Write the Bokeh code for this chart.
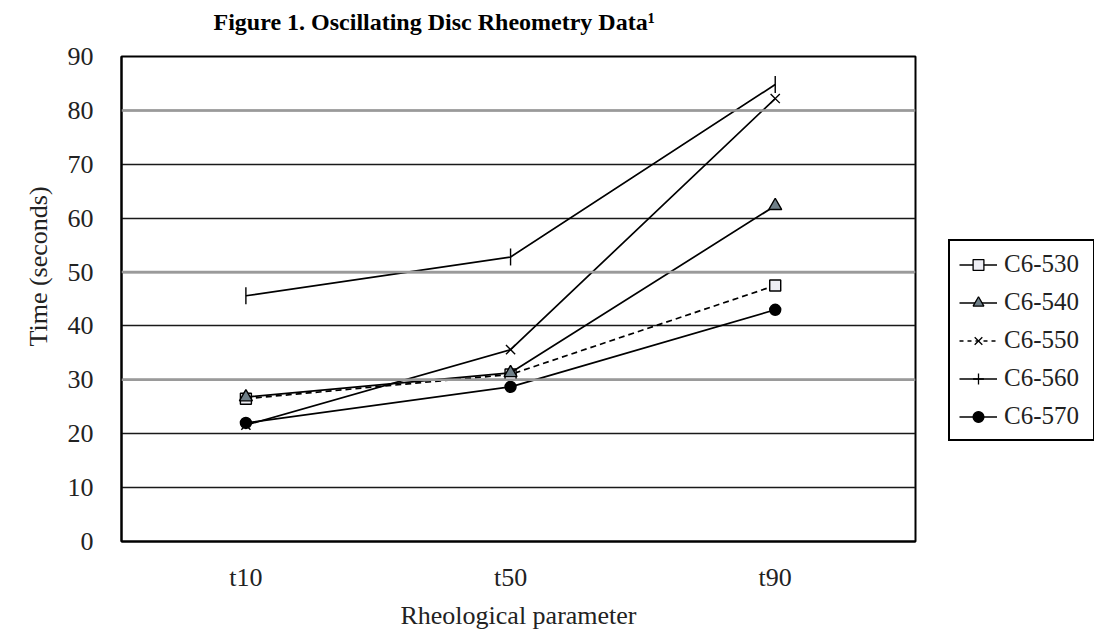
import math
from bokeh.plotting import figure
from bokeh.layouts import row, column
from bokeh.models import (Range1d, FixedTicker, Legend, LegendItem,
                          ColumnDataSource, Span, Label, Title)
from bokeh.embed import file_html
from bokeh.resources import INLINE

# ---- data ----
params = ["t10", "t50", "t90"]
series_names = ["C6-530", "C6-540", "C6-550", "C6-560", "C6-570"]
c6_530 = [26.5, 31.0, 47.5]
c6_540 = [26.8, 31.3, 62.3]
c6_550 = [21.6, 35.6, 82.2]
c6_560 = [45.6, 52.8, 84.8]
c6_570 = [22.0, 28.7, 43.0]
y_ticks = [0, 10, 20, 30, 40, 50, 60, 70, 80, 90]
light_grid_values = [30, 50, 80]
title_text = "Figure 1. Oscillating Disc Rheometry Data\u00b9"
x_label = "Rheological parameter"
y_label = "Time (seconds)"

SERIF = "Liberation Serif"
x_pos = list(range(len(params)))   # category slots

# ---- title strip ----
tf = figure(width=1094, height=40, x_range=Range1d(0, 1), y_range=Range1d(0, 1),
            output_backend="svg", toolbar_location=None, x_axis_type=None, y_axis_type=None,
            min_border_left=0, min_border_right=0, min_border_top=0, min_border_bottom=0)
tf.outline_line_color = None
tf.grid.grid_line_color = None
tf.add_layout(Label(x=213, y=19, x_units="screen", y_units="screen", text=title_text,
                    text_font=SERIF, text_font_size="24px", text_font_style="bold",
                    text_color="black", text_baseline="middle", text_align="left"))

# ---- main chart ----
p = figure(width=940, height=592, x_range=Range1d(-0.47, len(params) - 0.47),
           y_range=Range1d(0, 90), output_backend="svg", toolbar_location=None,
           min_border_left=121, min_border_right=25, min_border_top=16,
           min_border_bottom=88)

p.background_fill_color = "white"
p.border_fill_color = "white"
p.outline_line_color = "black"
p.outline_line_width = 2

p.yaxis.ticker = FixedTicker(ticks=y_ticks)
p.xaxis.ticker = FixedTicker(ticks=x_pos)
p.xaxis.major_label_overrides = {i: name for i, name in zip(x_pos, params)}
for ax in (p.xaxis[0], p.yaxis[0]):
    ax.major_tick_in = 0
    ax.major_tick_out = 0
    ax.minor_tick_in = 0
    ax.minor_tick_out = 0
    ax.axis_line_color = "black"
    ax.axis_line_width = 2
    ax.major_label_text_font = SERIF
    ax.major_label_text_font_size = "26px"
    ax.major_label_text_color = "#222222"
    ax.axis_label_text_font = SERIF
    ax.axis_label_text_font_size = "26px"
    ax.axis_label_text_font_style = "normal"
    ax.axis_label_text_color = "#222222"

p.yaxis.major_label_standoff = 28
p.xaxis.axis_label = x_label
p.xaxis.major_label_standoff = 21
p.xaxis.axis_label_standoff = 6

# y-axis title, placed above the middle as in the original
ytitle = Title(text=y_label, align="left", offset=195, vertical_align="top",
               text_font=SERIF, text_font_size="26px", text_font_style="normal",
               text_color="#222222", standoff=20)
p.add_layout(ytitle, "left")

p.xgrid.grid_line_color = None
p.ygrid.grid_line_color = "#1a1a1a"
p.ygrid.grid_line_width = 1.5
for v in light_grid_values:
    p.add_layout(Span(location=v, dimension="width", line_color="#9a9a9a", line_width=2.5))

# ---- legend panel (separate figure so the legend is not clipped) ----
lg = figure(width=154, height=592, x_range=Range1d(-0.5, 2.5),
            y_range=Range1d(-20, -10), output_backend="svg", toolbar_location=None,
            x_axis_type=None, y_axis_type=None,
            min_border_left=0, min_border_right=0, min_border_top=0, min_border_bottom=0)
lg.outline_line_color = None
lg.background_fill_color = "white"
lg.border_fill_color = "white"
lg.grid.grid_line_color = None

series_vals = [c6_530, c6_540, c6_550, c6_560, c6_570]
plot_dash = ["6 4", "solid", "solid", "solid", "solid"]
legend_dash = ["solid", "solid", "4 4", "solid", "solid"]
markers = ["square", "triangle", "x", "dash", "circle"]
legend_markers = ["square", "triangle", "x", "cross", "circle"]
sizes = [11, 13, 13, 17, 11]
legend_sizes = [10, 12, 11, 16, 11]
fills = ["#eeeef4", "#6f7f88", "black", "black", "black"]
angles = [0, 0, 0, math.pi / 2, 0]

items = []
for i, name in enumerate(series_names):
    src = ColumnDataSource(dict(x=x_pos, y=series_vals[i]))
    p.line("x", "y", source=src, line_color="black", line_width=1.7, line_dash=plot_dash[i])
    p.scatter("x", "y", source=src, marker=markers[i], size=sizes[i], fill_color=fills[i],
              line_color="black", line_width=1.4, angle=angles[i])
    # legend glyphs (same data, lying outside the legend panel's visible range)
    lr = lg.line("x", "y", source=src, line_color="black", line_width=1.6,
                 line_dash=legend_dash[i])
    sr = lg.scatter("x", "y", source=src, marker=legend_markers[i], size=legend_sizes[i],
                    fill_color=fills[i], line_color="black", line_width=1.3)
    items.append(LegendItem(label=name, renderers=[lr, sr]))

legend = Legend(items=items, location=(8, 100), orientation="vertical")
legend.label_text_font = SERIF
legend.label_text_font_size = "25px"
legend.label_text_color = "#222222"
legend.glyph_width = 38
legend.glyph_height = 27
legend.label_height = 27
legend.label_width = 80
legend.label_standoff = 7
legend.spacing = 10
legend.padding = 9
legend.margin = 0
legend.border_line_color = "black"
legend.border_line_alpha = 1.0
legend.border_line_width = 2
legend.background_fill_color = "white"
legend.background_fill_alpha = 1.0
lg.add_layout(legend, "center")

layout = column(tf, row(p, lg, spacing=0), spacing=0)
open("out.html", "w").write(file_html(layout, INLINE))
